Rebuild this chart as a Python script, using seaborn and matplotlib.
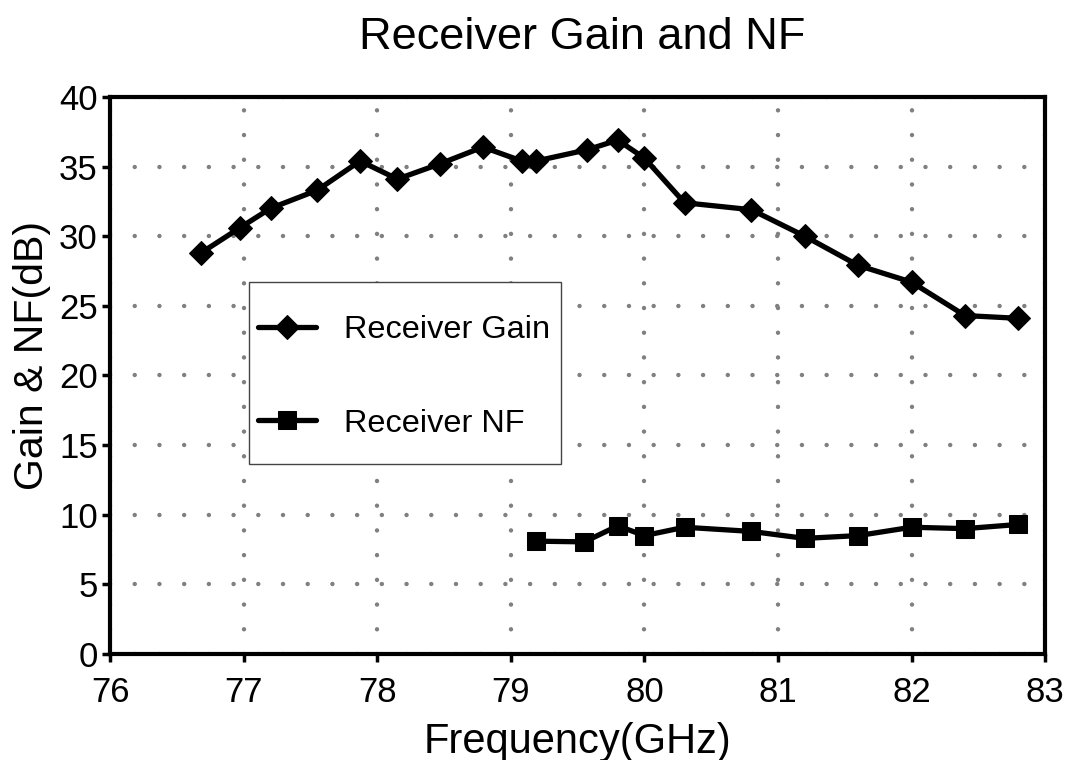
import matplotlib
matplotlib.use("Agg")
import matplotlib.pyplot as plt
from matplotlib.patches import Rectangle
import seaborn as sns
import pandas as pd

# Gain de réception et facteur de bruit
gain_freq = [76.68, 76.97, 77.2, 77.55, 77.87, 78.15, 78.47, 78.79, 79.08, 79.19,
             79.57, 79.8, 80.0, 80.3, 80.8, 81.2, 81.6, 82.0, 82.4, 82.8]
gain_db = [28.8, 30.6, 32.0, 33.3, 35.4, 34.1, 35.2, 36.4, 35.4, 35.4,
           36.2, 36.9, 35.6, 32.4, 31.9, 30.0, 27.9, 26.7, 24.3, 24.1]
nf_freq = [79.19, 79.55, 79.8, 80.0, 80.3, 80.8, 81.2, 81.6, 82.0, 82.4, 82.8]
nf_db = [8.1, 8.05, 9.2, 8.5, 9.1, 8.8, 8.3, 8.5, 9.1, 9.0, 9.3]

x_ticks = [76, 77, 78, 79, 80, 81, 82, 83]
y_ticks = [0, 5, 10, 15, 20, 25, 30, 35, 40]

sns.set_theme(style="white")
plt.rcParams['font.family'] = ['Liberation Sans', 'DejaVu Sans']
plt.rcParams['text.color'] = 'black'
plt.rcParams['axes.labelcolor'] = 'black'

df_gain = pd.DataFrame({"freq": gain_freq, "val": gain_db})
df_nf = pd.DataFrame({"freq": nf_freq, "val": nf_db})

fig = plt.figure(figsize=(10.75, 7.6), dpi=100)
ax = fig.add_axes([0.1026, 0.1395, 0.8696, 0.733])

sns.lineplot(data=df_gain, x="freq", y="val", ax=ax, color="black", lw=3.8,
             marker="D", markersize=12, markeredgecolor="black",
             label="Receiver Gain", zorder=3)
sns.lineplot(data=df_nf, x="freq", y="val", ax=ax, color="black", lw=3.8,
             marker="s", markersize=13.5, markeredgecolor="black",
             label="Receiver NF", zorder=3)

ax.set_xlim(76, 83)
ax.set_ylim(0, 40)
ax.set_xticks(x_ticks)
ax.set_yticks(y_ticks)
ax.grid(True, color="#808080", linewidth=3.2, linestyle=(0, (0.01, 5.55)),
        dash_capstyle="round")
ax.set_axisbelow(True)

for s in ax.spines.values():
    s.set_linewidth(3)
    s.set_color("black")
ax.tick_params(axis="both", direction="out", length=6, width=2.5,
               labelsize=25, colors="black", bottom=True, left=True)
ax.tick_params(axis="x", pad=10)
ax.tick_params(axis="y", pad=3)

ax.set_xlabel("Frequency(GHz)", fontsize=30, labelpad=9)
ax.set_ylabel("Gain & NF(dB)", fontsize=29.5)
ax.yaxis.set_label_coords(-0.063, 0.535)
fig.suptitle("Receiver Gain and NF", fontsize=32.5, x=0.542, y=0.978)

# cadre de la légende dessiné à part (marges inégales dans l'original)
ax.add_patch(Rectangle((0.148, 0.341), 0.334, 0.327, transform=ax.transAxes,
                       facecolor="white", edgecolor="#444444", lw=1.0, zorder=4))
leg = ax.legend(loc="center left", bbox_to_anchor=(0.158, 0.497),
                fontsize=23.4, frameon=False, borderpad=0, labelspacing=1.95,
                handlelength=1.8, handletextpad=0.86, borderaxespad=0)
leg.set_zorder(5)

plt.savefig("out.png", dpi=100)
